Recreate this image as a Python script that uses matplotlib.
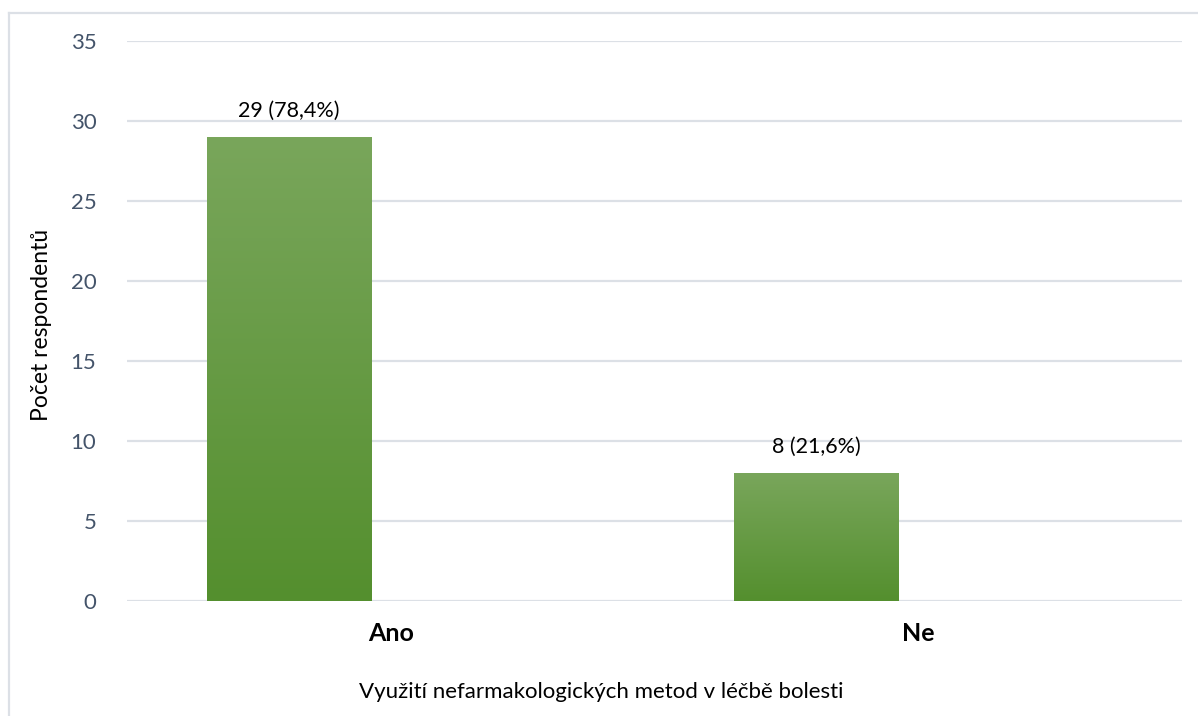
import numpy as np
import matplotlib.pyplot as plt
from matplotlib.colors import LinearSegmentedColormap
from matplotlib.patches import Rectangle

# survey answers
categories = ['Ano', 'Ne']
counts = [29, 8]
percents = ['78,4%', '21,6%']
yticks = [0, 5, 10, 15, 20, 25, 30, 35]

plt.rcParams['font.family'] = ['Lato', 'DejaVu Sans']

fig = plt.figure(figsize=(11.98, 7.16), dpi=100)
ax = fig.add_axes([0.106, 0.1606, 0.8806, 0.7821])

# outer chart frame (top and left edges show)
fig.add_artist(plt.Line2D([9/1198, 1.0], [1 - 13/716, 1 - 13/716], color='#DCE0E6', lw=1.6))
fig.add_artist(plt.Line2D([9/1198, 9/1198], [0, 1 - 13/716], color='#DCE0E6', lw=1.6))

xpos = np.arange(len(categories)) + 0.5
offset = -0.193
width = 0.311

green = LinearSegmentedColormap.from_list('grn', ['#548F2E', '#79A65B'])
grad = np.linspace(0, 1, 256).reshape(-1, 1)

bars = ax.bar(xpos + offset, counts, width=width, color='none', edgecolor='none', zorder=3)
for b, n, p in zip(bars, counts, percents):
    x0 = b.get_x()
    im = ax.imshow(grad, cmap=green, origin='lower', aspect='auto',
                   extent=[x0, x0 + b.get_width(), 0, n], zorder=3)
    clip = Rectangle((x0, 0), b.get_width(), n, transform=ax.transData)
    im.set_clip_path(clip)
    ax.text(x0 + b.get_width() / 2, n + 1.0, f'{n} ({p})', ha='center', va='bottom',
            fontsize=15.5, color='black')

ax.set_xlim(0, 2)
ax.set_ylim(0, 35)
ax.set_yticks(yticks)
ax.set_xticks(xpos)
ax.set_xticklabels(categories, fontsize=18, fontweight='bold', color='black')
ax.tick_params(axis='x', length=0, pad=15)
ax.tick_params(axis='y', length=0, pad=22, labelsize=16, labelcolor='#44546A')
ax.grid(axis='y', color='#DCE0E6', lw=1.6, zorder=0)
ax.set_axisbelow(True)
for s in ax.spines.values():
    s.set_visible(False)

fig.text(42/1198, 1 - 325/716, 'Počet respondentů', rotation=90, ha='center', va='center',
         fontsize=16.5, color='black')
fig.text(601/1198, 1 - 692/716, 'Využití nefarmakologických metod v léčbě bolesti',
         ha='center', va='center', fontsize=16, color='black')

fig.savefig('out.png', dpi=100)
